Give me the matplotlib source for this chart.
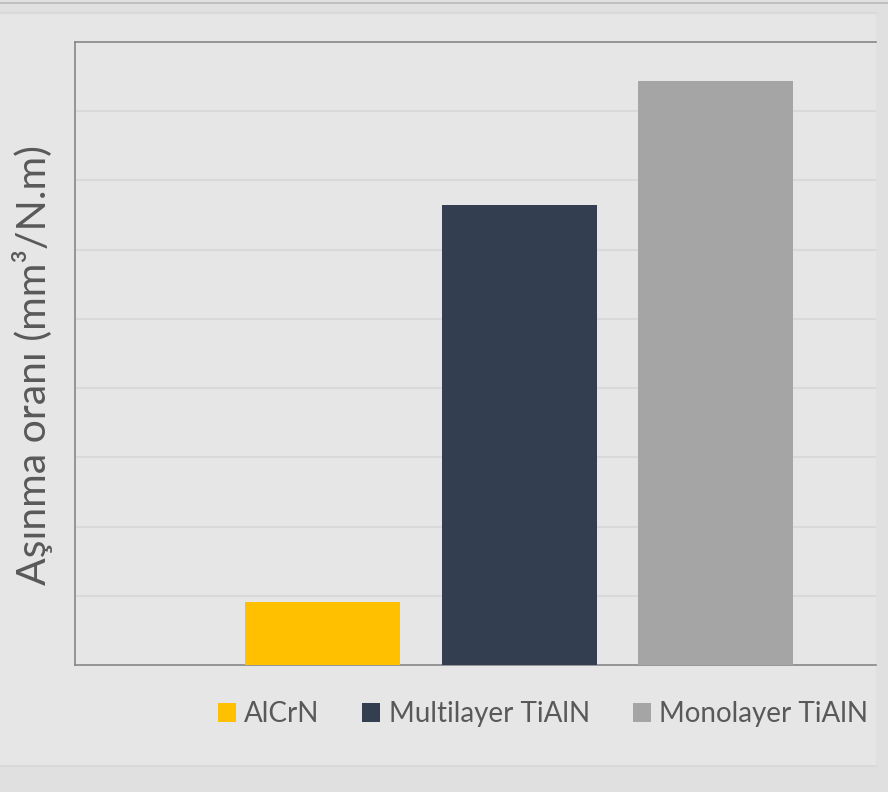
import matplotlib.pyplot as plt
from matplotlib.patches import Rectangle
from matplotlib.lines import Line2D

coatings = ['AlCrN', 'Multilayer TiAlN', 'Monolayer TiAlN']
wear_rate = [0.91, 6.65, 8.44]
bar_colors = ['#FFC000', '#333F50', '#A5A5A5']
y_label = 'Aşınma oranı (mm³/N.m)'

plt.rcParams['font.family'] = ['Lato', 'DejaVu Sans']
text_color = '#595959'

fig = plt.figure(figsize=(8.88, 7.92), dpi=100, facecolor='#e0e0e0')

# chart area panel like the spreadsheet screenshot
fig.patches.append(Rectangle((0, 26 / 792), 876 / 888, 753 / 792, transform=fig.transFigure,
                             facecolor='#e6e6e6', edgecolor='none', zorder=-10))
fig.add_artist(Line2D([0, 1], [789 / 792, 789 / 792], transform=fig.transFigure,
                      color='#b9b9b9', lw=1.2, zorder=-5))
fig.add_artist(Line2D([0, 876 / 888], [779 / 792, 779 / 792], transform=fig.transFigure,
                      color='#d9d9d9', lw=1.5, zorder=-5))
fig.add_artist(Line2D([0, 876 / 888], [26 / 792, 26 / 792], transform=fig.transFigure,
                      color='#d9d9d9', lw=1.5, zorder=-5))

ax = fig.add_axes([75 / 888, 127 / 792, 801 / 888, 623 / 792])
ax.set_facecolor('none')
ax.set_zorder(2)

x = list(range(len(coatings)))
for i in x:
    ax.bar(i, wear_rate[i], width=0.79, color=bar_colors[i], label=coatings[i], zorder=3)

ax.set_xlim(-1.263, 2.819)
ax.set_ylim(0, 9)
ax.set_yticks(range(1, 9))
ax.set_xticks([])
ax.tick_params(left=False, labelleft=False)
ax.grid(axis='y', color='#d9d9d9', lw=1.5, zorder=0)

for s in ['left', 'top', 'bottom']:
    ax.spines[s].set_color('#878787')
    ax.spines[s].set_linewidth(1.2)
ax.spines['right'].set_visible(False)

fig.text(33 / 888, 1 - 365 / 792, y_label, rotation=90, ha='center', va='center',
         fontsize=29.5, color=text_color)

leg = ax.legend(loc='center', bbox_to_anchor=(543 / 888, 1 - 714 / 792),
                bbox_transform=fig.transFigure, ncol=3, frameon=False, fontsize=20,
                handlelength=0.65, handleheight=0.65, handletextpad=0.3,
                columnspacing=1.55)
for t in leg.get_texts():
    t.set_color(text_color)

fig.savefig('out.png', dpi=100, facecolor=fig.get_facecolor())
